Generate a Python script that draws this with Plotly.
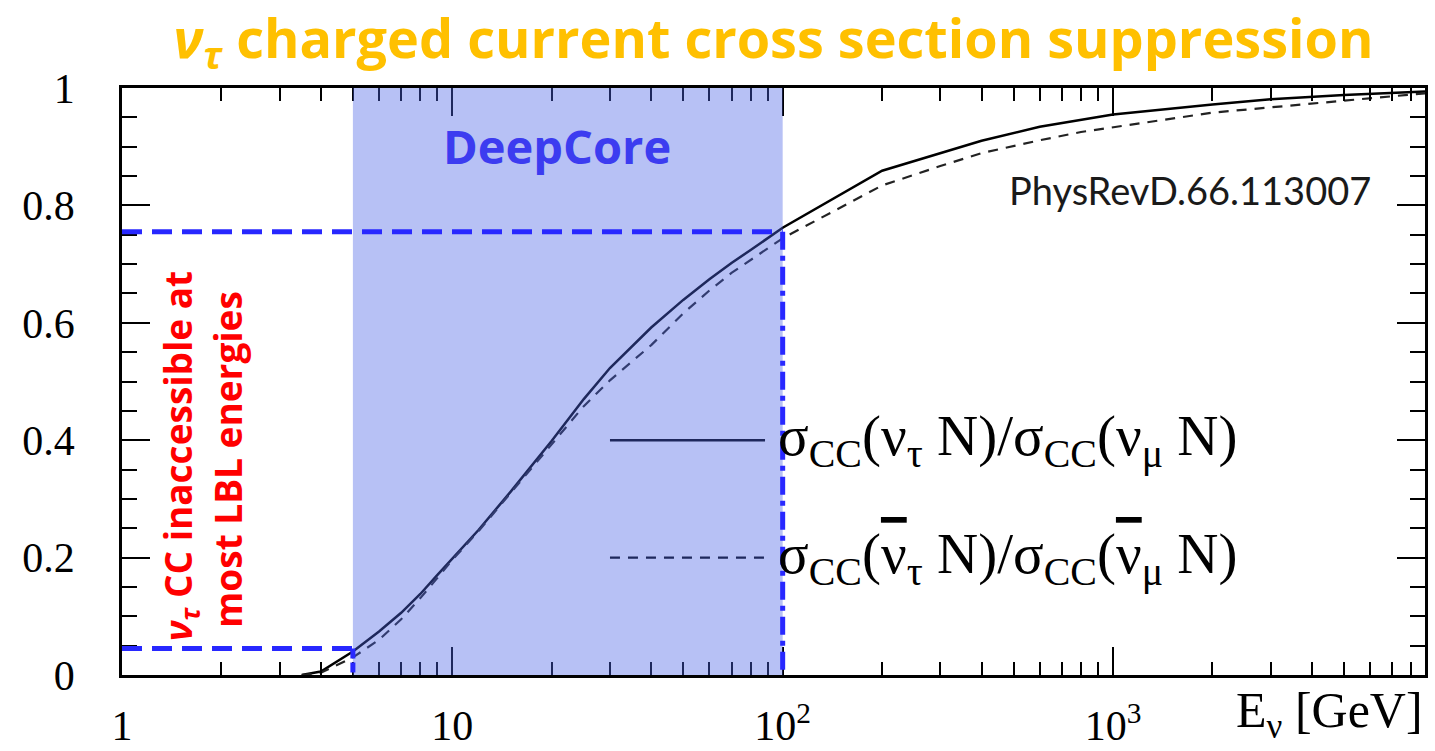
import numpy as np
import plotly.graph_objects as go

# ---- data ----
energy_gev = [3.5, 4, 5, 6, 7, 8, 9, 10, 12, 15, 20, 25, 30, 40, 50, 60, 70, 80,
              100, 200, 300, 400, 600, 800, 1000, 2000, 3000, 5000, 8800]
ratio_nu = [0.0, 0.006, 0.040, 0.074, 0.106, 0.138, 0.170, 0.198, 0.247, 0.312,
            0.399, 0.470, 0.523, 0.592, 0.639, 0.674, 0.702, 0.724,
            0.762, 0.859, 0.889, 0.910, 0.934, 0.946, 0.955, 0.972, 0.981, 0.988, 0.994]
ratio_nubar = [0.0, 0.004, 0.030, 0.060, 0.095, 0.131, 0.165, 0.196, 0.245, 0.310,
               0.394, 0.458, 0.502, 0.562, 0.616, 0.655, 0.685, 0.707,
               0.744, 0.834, 0.867, 0.889, 0.911, 0.925, 0.933, 0.958, 0.967, 0.978, 0.991]

x_range_gev = [1, 8800]
x_tickvals = [1, 10, 100, 1000]
x_ticktext = ["1", "10", "10<sup>2</sup>", "10<sup>3</sup>"]
x_minor = [m * 10 ** k for k in range(4) for m in range(2, 10) if m * 10 ** k < 8800]
y_tickvals = [0, 0.2, 0.4, 0.6, 0.8, 1]
y_ticktext = ["0", "0.2", "0.4", "0.6", "0.8", "1"]

deepcore_lo, deepcore_hi = 5, 100
ratio_at_lo, ratio_at_hi = 0.045, 0.755

NUBAR = '<span style="text-decoration:overline">ν</span>'
legend_labels = ["σ<sub>CC</sub>(ν<sub>τ</sub> N)/σ<sub>CC</sub>(ν<sub>μ</sub> N)",
                 "σ<sub>CC</sub>(" + NUBAR + "<sub>τ</sub> N)/σ<sub>CC</sub>(" + NUBAR + "<sub>μ</sub> N)"]
legend_y = [0.4, 0.2]

SERIF = "Liberation Serif"
SANS = "Open Sans"
BLUE = "rgb(40,40,255)"

fig = go.Figure()
fig.add_trace(go.Scatter(x=energy_gev, y=ratio_nu, mode="lines",
                         line=dict(color="black", width=2.5), showlegend=False))
fig.add_trace(go.Scatter(x=energy_gev, y=ratio_nubar, mode="lines",
                         line=dict(color="#222", width=2.2, dash="10px,8px"), showlegend=False))
# carrier trace for the top/right mirror axes
fig.add_trace(go.Scatter(x=[], y=[], xaxis="x2", yaxis="y2", showlegend=False))

shapes = []
# legend sample lines (under the band)
shapes.append(dict(type="line", xref="paper", yref="y", x0=0.3745, x1=0.4935,
                   y0=legend_y[0], y1=legend_y[0], layer="below",
                   line=dict(color="black", width=2.5)))
shapes.append(dict(type="line", xref="paper", yref="y", x0=0.3745, x1=0.4935,
                   y0=legend_y[1], y1=legend_y[1], layer="below",
                   line=dict(color="black", width=2.2, dash="10px,8px")))
# DeepCore band
shapes.append(dict(type="rect", xref="x", yref="y", x0=deepcore_lo, x1=deepcore_hi, y0=0, y1=1,
                   layer="above", line=dict(width=0),
                   fillcolor="rgba(75,100,230,0.40)"))
# blue guide lines
shapes.append(dict(type="line", xref="x", yref="y", x0=x_range_gev[0], x1=deepcore_hi,
                   y0=ratio_at_hi, y1=ratio_at_hi,
                   layer="above", line=dict(color=BLUE, width=5, dash="20px,10px")))
shapes.append(dict(type="line", xref="x", yref="y", x0=deepcore_hi, x1=deepcore_hi,
                   y0=ratio_at_hi, y1=0,
                   layer="above", line=dict(color=BLUE, width=5, dash="18px,6px,5px,6px")))
shapes.append(dict(type="line", xref="x", yref="y", x0=x_range_gev[0], x1=deepcore_lo,
                   y0=ratio_at_lo, y1=ratio_at_lo,
                   layer="above", line=dict(color=BLUE, width=5, dash="20px,10px")))
shapes.append(dict(type="line", xref="x", yref="y", x0=deepcore_lo, x1=deepcore_lo,
                   y0=ratio_at_lo, y1=0,
                   layer="above", line=dict(color=BLUE, width=5, dash="10px,4px")))

annotations = [
    dict(text="DeepCore", xref="x", yref="paper", x=1.316, y=(675 - 146) / 587,
         xanchor="center", yanchor="middle",
         showarrow=False, font=dict(family=SANS, size=47, color="rgb(60,60,240)", weight="bold")),
    dict(text="PhysRevD.66.113007", xref="paper", yref="paper", x=0.96, y=(675 - 190) / 587,
         xanchor="right", yanchor="middle", showarrow=False,
         font=dict(family="Lato", size=38, color="#1a1a1a")),
    dict(text="<i>ν<sub>τ</sub></i> CC inaccessible at", xref="paper", yref="paper",
         x=(180 - 122) / 1303, y=(675 - 456) / 587, textangle=-90, showarrow=False,
         xanchor="center", yanchor="middle",
         font=dict(family=SANS, size=37, color="#ff0000", weight="bold")),
    dict(text="most LBL energies", xref="paper", yref="paper",
         x=(227 - 122) / 1303, y=(675 - 460) / 587, textangle=-90, showarrow=False,
         xanchor="center", yanchor="middle",
         font=dict(family=SANS, size=37, color="#ff0000", weight="bold")),
    dict(text="E<sub>ν</sub> [GeV]", xref="paper", yref="paper", x=1.0, y=(675 - 714) / 587,
         xanchor="right", yanchor="middle", showarrow=False,
         font=dict(family=SERIF, size=50, color="black")),
]
for lbl, yy in zip(legend_labels, legend_y):
    annotations.append(dict(text=lbl, xref="paper", yref="y", x=(776 - 122) / 1303, y=yy,
                            xanchor="left", yanchor="middle", showarrow=False,
                            font=dict(family=SERIF, size=57, color="black")))

tick_common = dict(ticks="inside", ticklen=28, tickwidth=2, tickcolor="black",
                   showline=True, linecolor="black", linewidth=2.5,
                   showgrid=False, zeroline=False, automargin=False)
x_minor_cfg = dict(tickvals=x_minor, ticks="inside", ticklen=13, tickwidth=2,
                   tickcolor="black", showgrid=False)
y_minor_cfg = dict(dtick=0.05, ticks="inside", ticklen=15, tickwidth=2,
                   tickcolor="black", showgrid=False)
x_log_range = [np.log10(x_range_gev[0]), np.log10(x_range_gev[1])]

fig.update_layout(
    width=1435, height=751,
    margin=dict(l=122, r=10, t=88, b=76),
    paper_bgcolor="white", plot_bgcolor="white",
    title=dict(text="<i>ν<sub>τ</sub></i> charged current cross section suppression",
               x=(122 + 1425) / 2 / 1435, xanchor="center", y=0.948, yanchor="middle",
               font=dict(family=SANS, size=54, color="#FFC000", weight="bold")),
    shapes=shapes, annotations=annotations,
    xaxis=dict(type="log", range=x_log_range, tickvals=x_tickvals, ticktext=x_ticktext,
               minor=x_minor_cfg, ticklabelstandoff=12, mirror=True,
               tickfont=dict(family=SERIF, size=42, color="black"), **tick_common),
    yaxis=dict(range=[0, 1], tickvals=y_tickvals, ticktext=y_ticktext,
               minor=y_minor_cfg, ticklabelstandoff=36, mirror=True,
               tickfont=dict(family=SERIF, size=42, color="black"), **tick_common),
    xaxis2=dict(type="log", range=x_log_range, tickvals=x_tickvals, overlaying="x",
                side="top", anchor="y", showticklabels=False, minor=x_minor_cfg, **tick_common),
    yaxis2=dict(range=[0, 1], tickvals=y_tickvals, overlaying="y", side="right",
                anchor="x", showticklabels=False, minor=y_minor_cfg, **tick_common),
)

fig.write_html("out.html")
